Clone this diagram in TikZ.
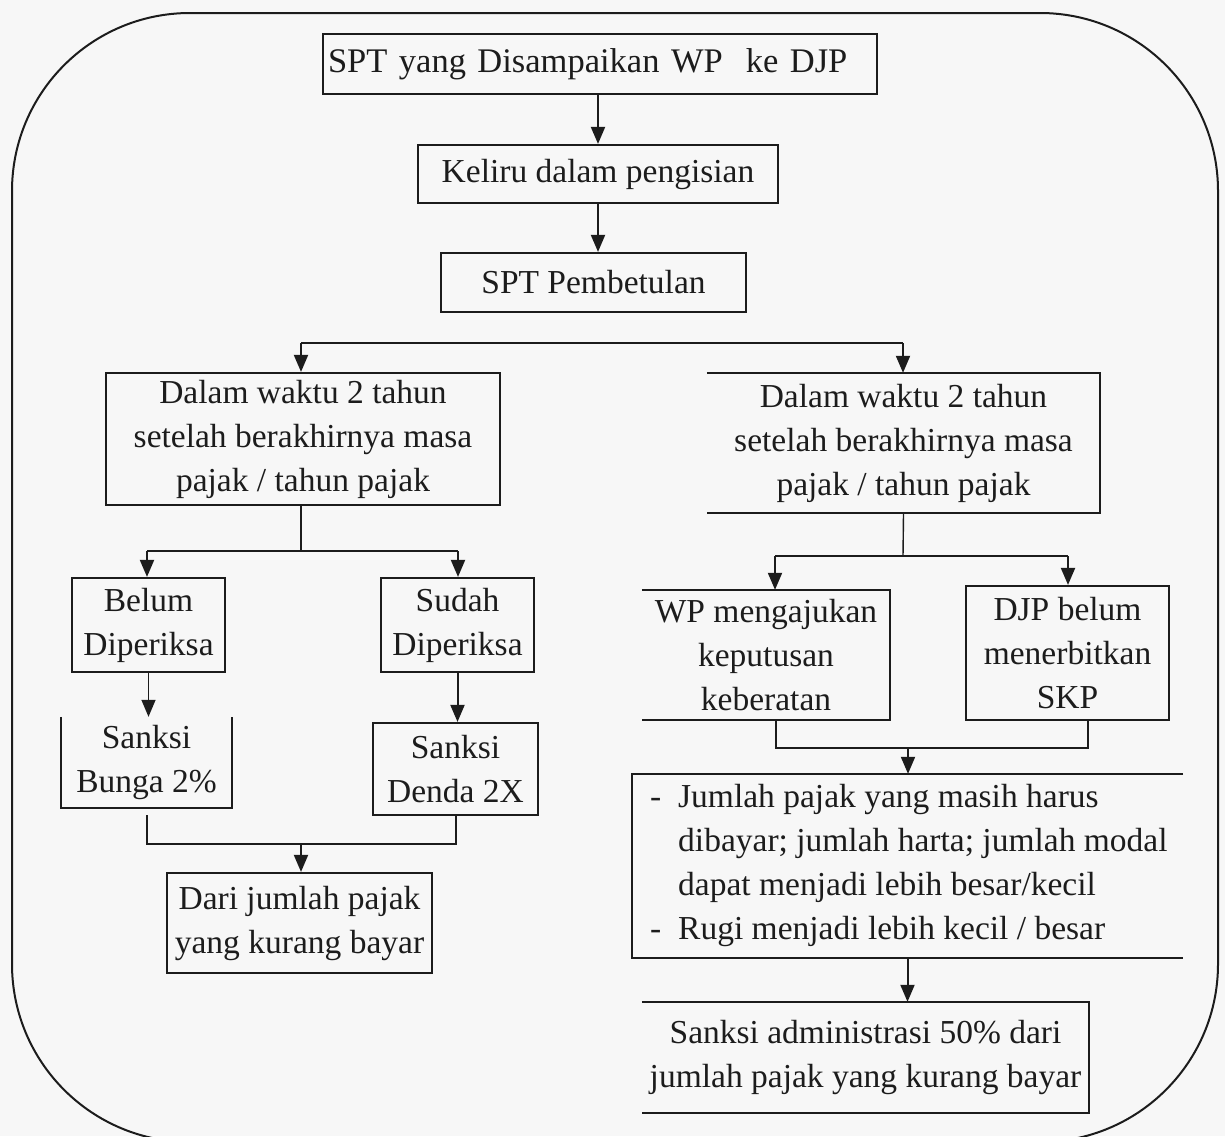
\documentclass[tikz,border=0pt]{standalone}
\usepackage{fontspec}
\setmainfont{Liberation Serif}
\usetikzlibrary{arrows.meta}
\definecolor{bg}{HTML}{F7F7F7}
\definecolor{ink}{HTML}{1C1C1C}
\begin{document}
\begin{tikzpicture}[x=1pt,y=-1pt,
  txt/.style={inner sep=0pt, align=center, text=ink, font=\fontsize{33.5}{44}\selectfont},
  frame/.style={draw=ink, line width=2.2pt},
  side/.style={draw=ink, line width=2.2pt, line join=miter},
  ln/.style={draw=ink, line width=2pt},
  lnthin/.style={draw=ink, line width=1.4pt},
  arr/.style={draw=ink, line width=2pt, -{Triangle[length=17pt,width=14pt]}},
  arrthin/.style={draw=ink, line width=1.4pt, -{Triangle[length=17pt,width=14pt]}}]
\path[fill=bg, use as bounding box] (0,0) rectangle (1225,1136);
\clip (0,0) rectangle (1225,1136);
\draw[ink, line width=2pt, rounded corners=178pt] (12,13) rectangle (1218,1142);

% nodes
\node[txt, frame, minimum width=554pt, minimum height=60pt, text width=544pt, align=left,
      font=\fontsize{34.5}{44}\selectfont] (top) at (600,64) {SPT yang Disampaikan WP\ \ ke DJP};
\node[txt, frame, minimum width=360pt, minimum height=58pt] (keliru) at (598,174) {Keliru dalam pengisian};
\node[txt, frame, minimum width=305pt, minimum height=59pt] (pemb) at (593.5,282.5) {SPT Pembetulan};
\node[txt, frame, minimum width=394pt, minimum height=132pt] (dalamL) at (303,439)
  {Dalam waktu 2 tahun\\setelah berakhirnya masa\\pajak / tahun pajak};
\node[txt, minimum width=393pt, minimum height=140pt] (dalamR) at (903.5,443)
  {Dalam waktu 2 tahun\\setelah berakhirnya masa\\pajak / tahun pajak};
\draw[side] (dalamR.north west) -- (dalamR.north east) -- (dalamR.south east) -- (dalamR.south west);
\node[txt, frame, minimum width=153pt, minimum height=94pt] (belum) at (148.5,625) {Belum\\Diperiksa};
\node[txt, frame, minimum width=153pt, minimum height=94pt] (sudah) at (457.5,625) {Sudah\\Diperiksa};
\node[txt, minimum width=171pt, minimum height=91pt] (bunga) at (146.5,762.5) {Sanksi\\Bunga 2\%};
\draw[side] (bunga.north west) -- (bunga.south west) -- (bunga.south east) -- (bunga.north east);
\node[txt, frame, minimum width=165pt, minimum height=92pt] (denda) at (455.5,769) {Sanksi\\Denda 2X};
\node[txt, frame, minimum width=265pt, minimum height=100pt] (dari) at (299.5,923) {Dari jumlah pajak\\yang kurang bayar};
\node[txt, minimum width=248pt, minimum height=130pt] (wp) at (766,655) {WP mengajukan\\keputusan\\keberatan};
\draw[side] (wp.north west) -- (wp.north east) -- (wp.south east) -- (wp.south west);
\node[txt, frame, minimum width=203pt, minimum height=134pt] (djp) at (1067.5,653) {DJP belum\\menerbitkan\\SKP};
\node[inner sep=0pt, minimum width=551pt, minimum height=184pt] (jumlah) at (907.5,866) {};
\draw[side] (jumlah.north east) -- (jumlah.north west) -- (jumlah.south west) -- (jumlah.south east);
\node[txt, align=left, anchor=west] (jumlahtxt) at (650,865)
  {\makebox[28pt][l]{-}Jumlah pajak yang masih harus\\
   \hspace*{28pt}dibayar; jumlah harta; jumlah modal\\
   \hspace*{28pt}dapat menjadi lebih besar/kecil\\
   \makebox[28pt][l]{-}Rugi menjadi lebih kecil / besar};
\node[txt, minimum width=447pt, minimum height=111pt] (admin) at (865.5,1057.5)
  {Sanksi administrasi 50\% dari\\jumlah pajak yang kurang bayar};
\draw[side] (admin.north west) -- (admin.north east) -- (admin.south east) -- (admin.south west);

% connectors
\draw[arr] (keliru.north |- top.south) -- (keliru.north);
\draw[arr] (keliru.south) -- (keliru.south |- pemb.north);

\coordinate (bL) at (301,343);
\coordinate (bR) at (903,343);
\draw[ln] (bL) -- (bR);
\draw[arr] (bL) -- (bL |- dalamL.north);
\draw[arr] (bR) -- (bR |- dalamR.north);

\coordinate (sL) at (301,551);
\coordinate (sL1) at (147,551);
\coordinate (sL2) at (458,551);
\draw[ln] (sL |- dalamL.south) -- (sL);
\draw[ln] (sL1) -- (sL2);
\draw[arr] (sL1) -- (sL1 |- belum.north);
\draw[arr] (sL2) -- (sL2 |- sudah.north);

\draw[arrthin] (belum.south) -- (belum.south |- bunga.north);
\draw[arr] (sudah.south) -- (sudah.south |- denda.north);

\coordinate (mL) at (301,844);
\draw[ln] ([yshift=-7pt]bunga.south) |- (mL) -| (denda.south);
\draw[arr] (mL) -- (mL |- dari.north);

\coordinate (sR) at (903,556);
\coordinate (sR1) at (775,556);
\coordinate (sR2) at (1068,556);
\draw[lnthin] (dalamR.south) -- (sR);
\draw[ln] (sR1) -- (sR2);
\draw[arr] (sR1) -- (sR1 |- wp.north);
\draw[arr] (sR2) -- (sR2 |- djp.north);

\coordinate (mR) at (908,748);
\draw[lnthin] ([xshift=10pt]wp.south) |- (mR) -| ([xshift=20.5pt]djp.south);
\draw[arr] (mR) -- (mR |- jumlah.north);
\draw[arr] (jumlah.south) -- (jumlah.south |- admin.north);
\end{tikzpicture}
\end{document}
